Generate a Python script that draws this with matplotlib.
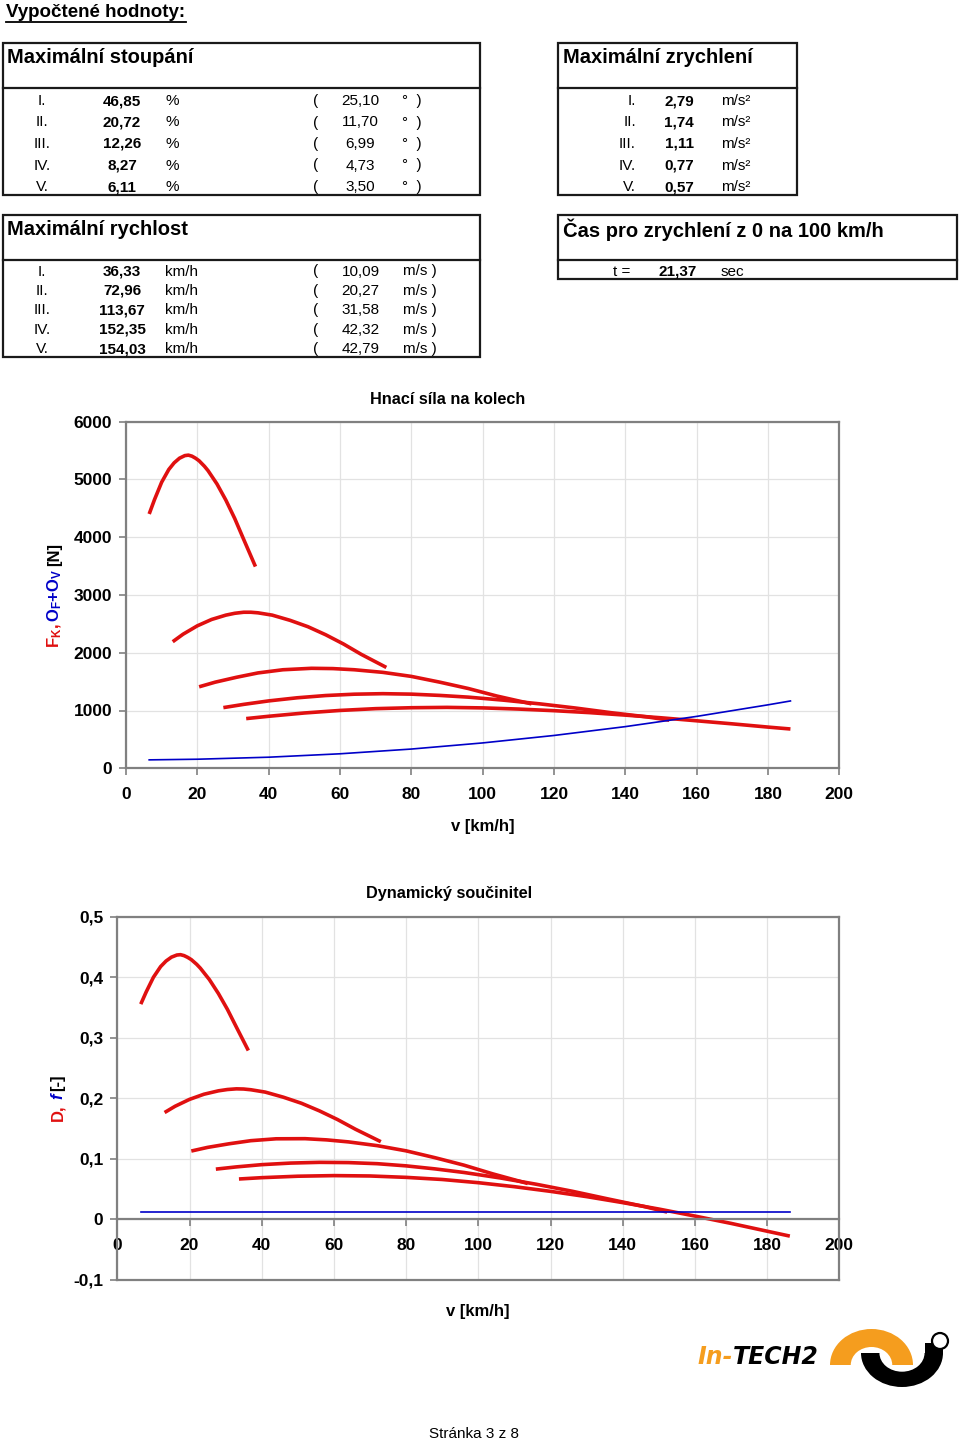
import matplotlib
matplotlib.use('Agg')
import matplotlib.pyplot as plt
from matplotlib.patches import Rectangle, Wedge, Circle
from matplotlib.transforms import Affine2D
from matplotlib.ticker import FuncFormatter, MultipleLocator

plt.rcParams['font.family'] = ['Liberation Sans', 'DejaVu Sans']
plt.rcParams['mathtext.fontset'] = 'custom'
plt.rcParams['mathtext.rm'] = 'Liberation Sans'
plt.rcParams['mathtext.bf'] = 'Liberation Sans:bold'
plt.rcParams['mathtext.it'] = 'Liberation Sans:bold:italic'
plt.rcParams['mathtext.default'] = 'bf'

# ---------------- table data ----------------
gears = ['I.', 'II.', 'III.', 'IV.', 'V.']
climb_pct = ['46,85', '20,72', '12,26', '8,27', '6,11']
climb_deg = ['25,10', '11,70', '6,99', '4,73', '3,50']
accel = ['2,79', '1,74', '1,11', '0,77', '0,57']
vmax_kmh = ['36,33', '72,96', '113,67', '152,35', '154,03']
vmax_ms = ['10,09', '20,27', '31,58', '42,32', '42,79']
t_0_100 = '21,37'

# ---------------- chart 1: driving force ----------------
v_I = [6.5, 8, 10, 12, 13.5, 15, 16.5, 17.5, 18.5, 19.5, 20.5, 22, 23, 25.5, 28, 30.5, 33, 36.3]
F_I = [4400, 4650, 4950, 5170, 5285, 5365, 5410, 5418, 5400, 5365, 5320, 5225, 5150, 4920, 4640, 4320, 3960, 3490]
v_II = [13.1, 16, 20, 24, 28, 30.5, 33, 35, 37, 41, 46, 51, 56, 61, 66, 73]
F_II = [2190, 2320, 2465, 2575, 2650, 2682, 2700, 2700, 2690, 2650, 2560, 2450, 2310, 2150, 1970, 1745]
v_III = [20.5, 25, 31, 37, 44, 52, 58, 64, 72, 80, 88, 96, 104, 113.7]
F_III = [1410, 1490, 1575, 1650, 1705, 1730, 1725, 1705, 1660, 1590, 1490, 1380, 1250, 1115]
v_IV = [27.3, 33, 40, 48, 56, 64, 72, 80, 88, 96, 106, 116, 126, 136, 146, 152.3]
F_IV = [1050, 1106, 1166, 1220, 1259, 1282, 1291, 1283, 1261, 1231, 1178, 1115, 1043, 962, 890, 833]
v_V = [33.7, 40, 50, 60, 70, 80, 90, 100, 110, 120, 130, 140, 150, 160, 170, 180, 186.3]
F_V = [860, 900, 957, 1001, 1032, 1048, 1054, 1045, 1025, 997, 963, 920, 874, 822, 769, 713, 680]
v_res = [6.5, 20, 40, 60, 80, 100, 120, 140, 160, 180, 186.3]
F_res = [146, 157, 192, 251, 333, 439, 568, 721, 898, 1098, 1165]

# ---------------- chart 2: dynamic factor ----------------
D_I = [0.3556, 0.3757, 0.3999, 0.4176, 0.4268, 0.4332, 0.4367, 0.4373, 0.4357, 0.4328, 0.4291,
       0.4213, 0.4150, 0.3962, 0.3732, 0.3470, 0.3175, 0.2790]
D_II = [0.1766, 0.1869, 0.1983, 0.2068, 0.2124, 0.2146, 0.2157, 0.2154, 0.2142, 0.2103, 0.2019,
        0.1919, 0.1793, 0.1650, 0.1489, 0.1284]
D_III = [0.1130, 0.1190, 0.1250, 0.1301, 0.1332, 0.1334, 0.1314, 0.1281, 0.1219, 0.1133, 0.1020,
         0.0897, 0.0753, 0.0594]
D_IV = [0.0831, 0.0868, 0.0905, 0.0931, 0.0943, 0.0939, 0.0921, 0.0885, 0.0835, 0.0776, 0.0686,
        0.0582, 0.0466, 0.0338, 0.0213, 0.0122]
D_V = [0.0668, 0.0690, 0.0714, 0.0724, 0.0718, 0.0695, 0.0660, 0.0607, 0.0541, 0.0464, 0.0377,
       0.0278, 0.0172, 0.0056, -0.0065, -0.0194, -0.0275]
v_f = [6.5, 186.3]
f_val = [0.0118, 0.0118]

RED = '#e01010'
BLUE = '#0000c8'
FRAME = '#808080'
GRID = '#e2e2e2'

W, H = 960, 1442
fig = plt.figure(figsize=(W / 100, H / 100), dpi=100)
fig.patch.set_facecolor('white')

# background pixel axes for page text
bg = fig.add_axes([0, 0, 1, 1])
bg.set_xlim(0, W)
bg.set_ylim(H, 0)
bg.axis('off')

DY = 1.5


def T(x, y, s, **kw):
    kw.setdefault('va', 'center')
    kw.setdefault('fontsize', 11)
    bg.text(x, y + DY, s, **kw)


# heading
T(6, 11, 'Vypočtené hodnoty:', fontsize=13.5, fontweight='bold')
bg.plot([6, 186], [21.5, 21.5], color='black', lw=1.3)

# boxes
def box(x0, x1, y0, ysep, y1):
    bg.add_patch(Rectangle((x0, y0), x1 - x0, y1 - y0, fill=False, lw=1.6, ec='#1a1a1a'))
    bg.plot([x0, x1], [ysep, ysep], color='#1a1a1a', lw=1.6)

box(3, 480, 43, 88, 195)
box(558, 797, 43, 88, 195)
box(3, 480, 215, 260, 357)
box(558, 957, 215, 260, 279)

TS = 14.5
T(7, 56, 'Maximální stoupání', fontsize=TS, fontweight='bold')
T(563, 56, 'Maximální zrychlení', fontsize=TS, fontweight='bold')
T(7, 228, 'Maximální rychlost', fontsize=TS, fontweight='bold')
T(563, 228, 'Čas pro zrychlení z 0 na 100 km/h', fontsize=TS, fontweight='bold')

for i, g in enumerate(gears):
    y = 99.5 + i * 21.5
    T(42, y, g, ha='center')
    T(122, y, climb_pct[i], ha='center', fontweight='bold')
    T(165, y, '%', ha='left')
    T(313, y, '(', ha='left')
    T(360.5, y, climb_deg[i], ha='center')
    T(402, y, '°  )', ha='left')
    # acceleration
    T(636, y, g, ha='right')
    T(679, y, accel[i], ha='center', fontweight='bold')
    T(721, y, 'm/s²', ha='left')
    # max speed
    y2 = 270 + i * 19.4
    T(42, y2, g, ha='center')
    T(122, y2, vmax_kmh[i], ha='center', fontweight='bold')
    T(165, y2, 'km/h', ha='left')
    T(313, y2, '(', ha='left')
    T(360.5, y2, vmax_ms[i], ha='center')
    T(403, y2, 'm/s )', ha='left')

T(630, 270, 't =', ha='right')
T(678, 270, t_0_100, ha='center', fontweight='bold')
T(721, 270, 'sec', ha='left')


def fmt_comma(v, pos):
    if abs(v) < 1e-9:
        return '0'
    return f'{v:.1f}'.replace('.', ',')


def style_axes(ax):
    ax.set_facecolor('white')
    for sp in ax.spines.values():
        sp.set_color(FRAME)
        sp.set_linewidth(1.6)
    ax.grid(True, color=GRID, lw=0.9)
    ax.set_axisbelow(True)
    ax.tick_params(axis='both', direction='out', length=5, width=1.2, color=FRAME,
                   labelsize=12.5)
    ax.tick_params(axis='x', pad=8.5)
    ax.tick_params(axis='y', pad=5)
    for lab in ax.get_xticklabels() + ax.get_yticklabels():
        lab.set_fontweight('bold')


# ---------------- chart 1 ----------------
ax1 = fig.add_axes([126 / W, 1 - 768.3 / H, (839.3 - 126) / W, (768.3 - 421.5) / H])
for vv, ff in [(v_I, F_I), (v_II, F_II), (v_III, F_III), (v_IV, F_IV), (v_V, F_V)]:
    ax1.plot(vv, ff, color=RED, lw=2.6, solid_joinstyle='round', solid_capstyle='butt')
ax1.plot(v_res, F_res, color=BLUE, lw=1.2)
ax1.set_xlim(0, 200)
ax1.set_ylim(0, 6000)
ax1.xaxis.set_major_locator(MultipleLocator(20))
ax1.yaxis.set_major_locator(MultipleLocator(1000))
style_axes(ax1)

T(448, 398, 'Hnací síla na kolech', ha='center', fontsize=11.7, fontweight='bold')
T(483, 825, 'v [km/h]', ha='center', fontsize=12, fontweight='bold')
T(55, 634, 'F$_K$,', ha='center', rotation=90, color=RED, fontsize=12, fontweight='bold')
T(55, 594, 'O$_F$+O$_V$', ha='center', rotation=90, color=BLUE, fontsize=12, fontweight='bold')
T(55, 553, '[N]', ha='center', rotation=90, color='black', fontsize=12, fontweight='bold')

# ---------------- chart 2 ----------------
ax2 = fig.add_axes([117.3 / W, 1 - 1280 / H, (839.3 - 117.3) / W, (1280 - 916.7) / H])
for vv, dd in [(v_I, D_I), (v_II, D_II), (v_III, D_III), (v_IV, D_IV), (v_V, D_V)]:
    ax2.plot(vv, dd, color=RED, lw=2.6, solid_joinstyle='round', solid_capstyle='butt')
ax2.plot(v_f, f_val, color=BLUE, lw=1.2)
ax2.set_xlim(0, 200)
ax2.set_ylim(-0.1, 0.5)
ax2.xaxis.set_major_locator(MultipleLocator(20))
ax2.yaxis.set_major_locator(MultipleLocator(0.1))
ax2.yaxis.set_major_formatter(FuncFormatter(fmt_comma))
ax2.spines['bottom'].set_position(('data', 0))
ax2.axhline(-0.1, color=FRAME, lw=1.6, clip_on=False)
style_axes(ax2)

T(449, 892, 'Dynamický součinitel', ha='center', fontsize=11.7, fontweight='bold')
T(478, 1310, 'v [km/h]', ha='center', fontsize=12, fontweight='bold')
T(58, 1111, 'D,', ha='center', rotation=90, color=RED, fontsize=12, fontweight='bold')
T(58, 1095, 'f', ha='center', rotation=90, color=BLUE, fontsize=12, fontweight='bold', fontstyle='italic')
T(58, 1081, '[-]', ha='center', rotation=90, color='black', fontsize=12, fontweight='bold')

# ---------------- logo ----------------
ORANGE = '#f59d1e'
orange = Wedge((0, 0), 1, 180, 360, width=0.5, facecolor=ORANGE, edgecolor='none',
               transform=Affine2D().scale(41.5, 36).translate(871.5, 1365) + bg.transData)
bg.add_patch(orange)
black = Wedge((0, 0), 1, 0, 180, width=0.45, facecolor='black', edgecolor='none',
              transform=Affine2D().scale(41, 34).translate(902, 1353) + bg.transData)
bg.add_patch(black)
bg.add_patch(Rectangle((925, 1343), 18, 11, facecolor='black', edgecolor='none'))
bg.add_patch(Circle((940, 1341), 8, facecolor='white', edgecolor='black', lw=1.6))
T(697, 1356, 'In-', ha='left', color=ORANGE, fontsize=17, fontweight='bold',
  fontstyle='italic', family='DejaVu Sans')
T(733, 1356, 'TECH2', ha='left', color='black', fontsize=17, fontweight='bold',
  fontstyle='italic', family='DejaVu Sans')

# footer
T(474, 1433, 'Stránka 3 z 8', ha='center', fontsize=11)

fig.savefig('out.png', dpi=100, facecolor='white')
